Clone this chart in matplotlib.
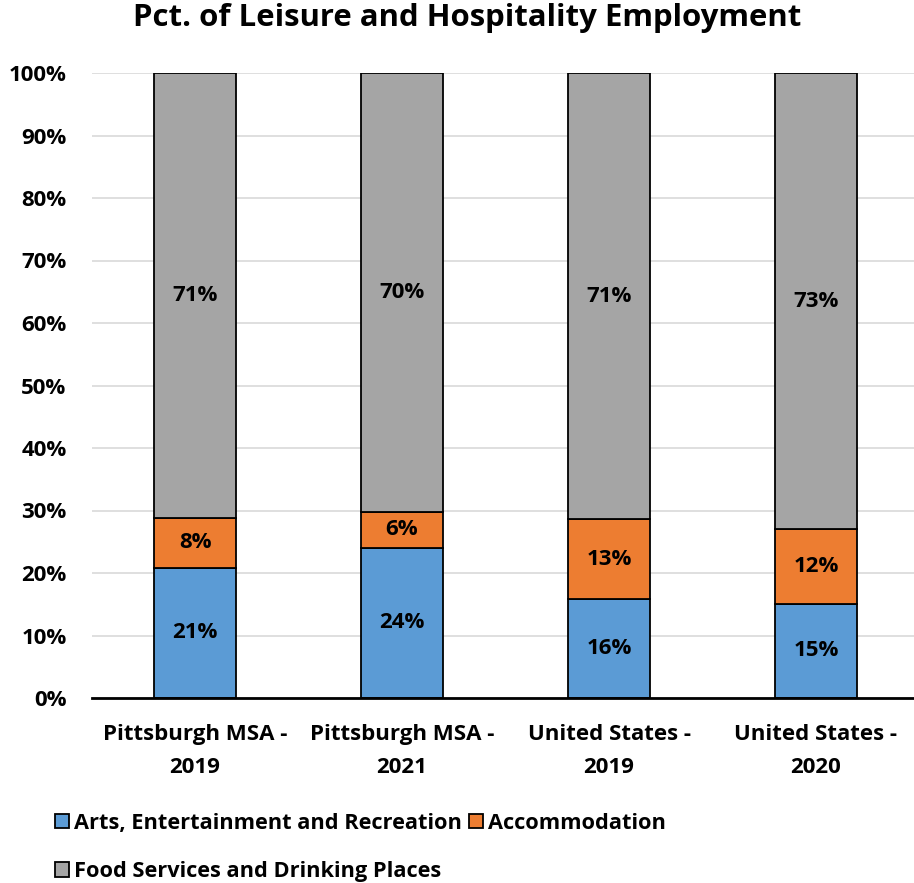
import matplotlib.pyplot as plt
import numpy as np

categories = ["Pittsburgh MSA -\n2019", "Pittsburgh MSA -\n2021",
              "United States -\n2019", "United States -\n2020"]
series_names = ["Arts, Entertainment and Recreation", "Accommodation",
                "Food Services and Drinking Places"]
arts = [20.8, 24.0, 15.8, 15.1]
accommodation = [8.0, 5.8, 12.8, 11.9]
food = [71.2, 70.2, 71.4, 73.0]
colors = ["#5B9BD5", "#ED7D31", "#A5A5A5"]
yticks = [0, 10, 20, 30, 40, 50, 60, 70, 80, 90, 100]

plt.rcParams['font.family'] = ['Open Sans', 'DejaVu Sans']
plt.rcParams['font.weight'] = 'bold'

W, H = 914, 883
fig = plt.figure(figsize=(W / 100, H / 100), dpi=100)
ax = fig.add_axes([91.5 / W, 1 - 698 / H, 828 / W, 625 / H])

x = np.arange(len(categories))
bottom = np.zeros(len(categories))
for name, vals, col in zip(series_names, [arts, accommodation, food], colors):
    vals = np.array(vals)
    ax.bar(x, vals, 0.40, bottom=bottom, color=col, edgecolor='black',
           linewidth=1.3, label=name, zorder=3)
    for xi, b, v in zip(x, bottom, vals):
        ax.text(xi, b + v / 2, f"{v:.0f}%", ha='center', va='center',
                fontsize=16, fontweight='bold', color='black', zorder=4)
    bottom += vals

ax.set_xlim(-0.5, 3.5)
ax.set_ylim(0, 100)
ax.set_yticks(yticks)
ax.set_yticklabels([f"{t}%" for t in yticks], fontsize=16, fontweight='bold')
ax.set_xticks(x)
ax.set_xticklabels(categories, fontsize=16, fontweight='bold', linespacing=1.75)
ax.tick_params(axis='x', length=0, pad=19)
ax.tick_params(axis='y', length=0, pad=18)
ax.grid(axis='y', color='#D9D9D9', linewidth=1.2, zorder=0)
for s in ['top', 'right', 'left']:
    ax.spines[s].set_visible(False)
ax.spines['bottom'].set_linewidth(2)
ax.spines['bottom'].set_zorder(5)

fig.text(467 / W, 1 - 18 / H, "Pct. of Leisure and Hospitality Employment",
         ha='center', va='center', fontsize=22.4, fontweight='bold')

handles, labels = ax.get_legend_handles_labels()
order = [0, 2, 1]
fig.legend([handles[i] for i in order], [labels[i] for i in order], ncol=2,
           loc='upper left', bbox_to_anchor=(46 / W, 1 - 804 / H), frameon=False,
           prop={'size': 15.7, 'weight': 'bold'}, handlelength=0.65,
           handleheight=0.65, handletextpad=0.25, columnspacing=0.3,
           labelspacing=1.25, borderaxespad=0)

fig.savefig("out.png", dpi=100)
